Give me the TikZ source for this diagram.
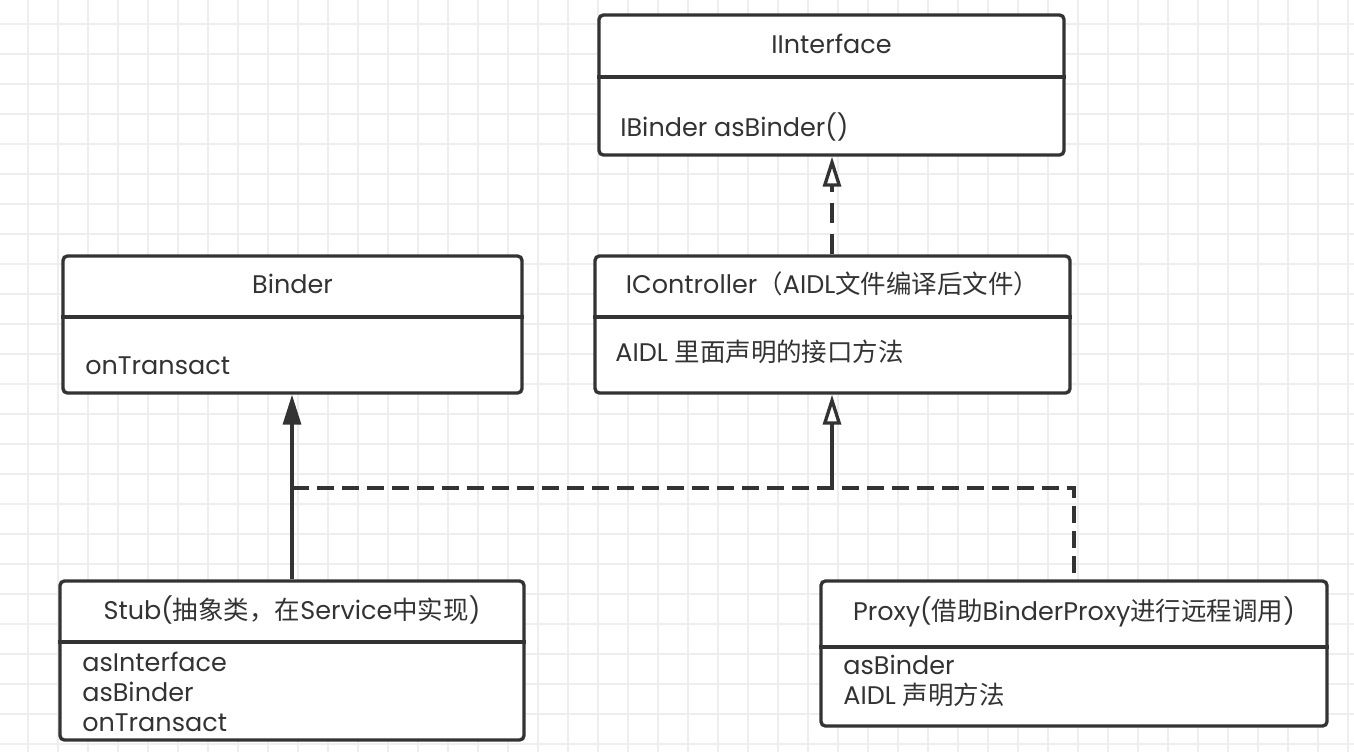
\documentclass[tikz,border=0pt]{standalone}
\usepackage{fontspec}
\setmainfont{Poppins}
\newfontfamily\cjk{Noto Sans CJK SC}
\usepackage{tikz}
\usetikzlibrary{arrows.meta,positioning,fit}
\definecolor{ink}{HTML}{333333}
\definecolor{gridc}{HTML}{EEEEEE}
\tikzset{
  gridline/.style={gridc,line width=0.9pt},
  classbox/.style={draw=ink,line width=1.9pt,rounded corners=2.5pt,fill=white,inner sep=0pt},
  divider/.style={ink,line width=1.9pt},
  title/.style={text=ink,font=\fontsize{14.5}{17}\selectfont,inner sep=0pt},
  member/.style={text=ink,font=\fontsize{14.5}{17}\selectfont,inner sep=0pt,anchor=west,align=left},
  inherit/.style={ink,line width=1.9pt,-{Triangle[length=0.6cm,width=0.36cm]}},
  realize/.style={ink,line width=1.9pt,-{Triangle[open,length=0.6cm,width=0.36cm,fill=white]}},
  realdash/.style={ink,line width=1.9pt,dash pattern=on 0.34cm off 0.16cm},
}
\begin{document}
\begin{tikzpicture}[x=0.02cm,y=-0.02cm]
  \useasboundingbox (0,0) rectangle (1354,752);
  \fill[white] (0,0) rectangle (1354,752);
  % background grid
  \foreach \x in {28,58,...,1348}
    \draw[gridline] (\x,0) -- (\x,752);
  \foreach \y in {24,54,...,744}
    \draw[gridline] (0,\y) -- (1354,\y);

  % classes
  \node[classbox,fit={(599,15) (1064,155)}] (iface) {};
  \draw[divider] (iface.west |- 0,77) -- (iface.east |- 0,77);
  \node[title] (ifacett) at (831.5,44) {IInterface};
  \node[member] (ifacem) at (620,127) {IBinder asBinder()};

  \node[classbox,fit={(63,256) (522,393)}] (binder) {};
  \draw[divider] (binder.west |- 0,317) -- (binder.east |- 0,317);
  \node[title] (bindertt) at (292.5,284) {Binder};
  \node[member] (binderm) at (85,366) {onTransact};

  \node[classbox,fit={(595,256) (1070,393)}] (ictrl) {};
  \draw[divider] (ictrl.west |- 0,317) -- (ictrl.east |- 0,317);
  \node[title] (ictrltt) at (832.5,284) {IController{\cjk （}AIDL{\cjk 文件编译后文件）}};
  \node[member] (ictrlm) at (615,352) {AIDL {\cjk 里面声明的接口方法}};

  \node[classbox,fit={(60,581) (524,740)}] (stub) {};
  \draw[divider] (stub.west |- 0,642) -- (stub.east |- 0,642);
  \node[title] (stubtt) at (292,610) {Stub({\cjk 抽象类，在}Service{\cjk 中实现})};
  \node[member] (stubm) at (82,692) {asInterface\\asBinder\\onTransact};

  \node[classbox,fit={(821,581) (1327,726)}] (proxy) {};
  \draw[divider] (proxy.west |- 0,647) -- (proxy.east |- 0,647);
  \node[title] (proxytt) at (1074,612) {Proxy({\cjk 借助}BinderProxy{\cjk 进行远程调用})};
  \node[member] (proxym) at (843,681) {asBinder\\AIDL {\cjk 声明方法}};

  % relations
  \coordinate (split) at (292,488);
  \coordinate (join) at (832,488);
  \coordinate (turn) at (1074,488);
  \draw[inherit] (stub.north -| split) -- (binder.south -| split);
  \draw[realdash] (split) -- (turn) -- (proxy.north -| turn);
  \draw[realize] (join) -- (ictrl.south -| join);
  \draw[realize,dash pattern=on 0.4cm off 0.22cm] (ictrl.north -| join) -- (iface.south -| join);
\end{tikzpicture}
\end{document}
